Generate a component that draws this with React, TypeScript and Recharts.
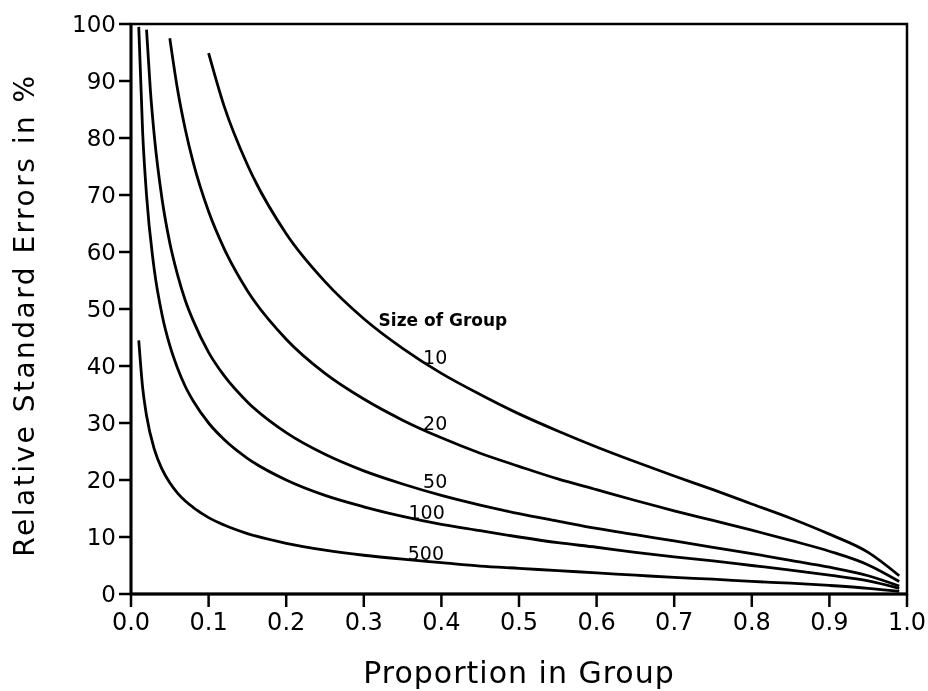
import {
    LineChart,
    Line,
    XAxis,
    YAxis,
    ReferenceArea,
    ReferenceDot,
    Label,
} from 'recharts';

// proportion in group (x) and relative standard error in % (y)
const propN10 = [0.1, 0.12, 0.15, 0.2, 0.25, 0.3, 0.35, 0.4, 0.45, 0.5, 0.55, 0.6, 0.65, 0.7, 0.75, 0.8, 0.85, 0.9, 0.95, 0.99];
const errN10 = [94.9, 85.6, 75.3, 63.2, 54.8, 48.3, 43.1, 38.7, 35.0, 31.6, 28.6, 25.8, 23.2, 20.7, 18.3, 15.8, 13.3, 10.5, 7.3, 3.2];

const propN20 = [0.05, 0.06, 0.07, 0.08, 0.1, 0.12, 0.15, 0.2, 0.25, 0.3, 0.35, 0.4, 0.45, 0.5, 0.55, 0.6, 0.65, 0.7, 0.75, 0.8, 0.85, 0.9, 0.95, 0.99];
const errN20 = [97.5, 88.5, 81.5, 75.8, 67.1, 60.6, 53.2, 44.7, 38.7, 34.2, 30.5, 27.4, 24.7, 22.4, 20.2, 18.3, 16.4, 14.6, 12.9, 11.2, 9.4, 7.5, 5.1, 2.2];

const propN50 = [0.02, 0.025, 0.03, 0.04, 0.05, 0.06, 0.07, 0.08, 0.1, 0.12, 0.15, 0.2, 0.25, 0.3, 0.35, 0.4, 0.45, 0.5, 0.55, 0.6, 0.65, 0.7, 0.75, 0.8, 0.85, 0.9, 0.95, 0.99];
const errN50 = [99.0, 88.3, 80.4, 69.3, 61.6, 56.0, 51.5, 48.0, 42.4, 38.3, 33.7, 28.3, 24.5, 21.6, 19.3, 17.3, 15.6, 14.1, 12.8, 11.5, 10.4, 9.3, 8.2, 7.1, 5.9, 4.7, 3.2, 1.4];

const propN100 = [0.01, 0.015, 0.02, 0.03, 0.04, 0.05, 0.06, 0.07, 0.08, 0.1, 0.12, 0.15, 0.2, 0.25, 0.3, 0.35, 0.4, 0.45, 0.5, 0.55, 0.6, 0.65, 0.7, 0.75, 0.8, 0.85, 0.9, 0.95, 0.99];
const errN100 = [99.5, 81.0, 70.0, 56.9, 49.0, 43.6, 39.6, 36.4, 33.9, 30.0, 27.1, 23.8, 20.0, 17.3, 15.3, 13.6, 12.2, 11.1, 10.0, 9.0, 8.2, 7.3, 6.5, 5.8, 5.0, 4.2, 3.3, 2.3, 1.0];

const propN500 = [0.01, 0.015, 0.02, 0.03, 0.04, 0.05, 0.06, 0.07, 0.08, 0.1, 0.12, 0.15, 0.2, 0.25, 0.3, 0.35, 0.4, 0.45, 0.5, 0.55, 0.6, 0.65, 0.7, 0.75, 0.8, 0.85, 0.9, 0.95, 0.99];
const errN500 = [44.5, 36.2, 31.3, 25.4, 21.9, 19.5, 17.7, 16.3, 15.2, 13.4, 12.1, 10.6, 8.9, 7.7, 6.8, 6.1, 5.5, 4.9, 4.5, 4.1, 3.7, 3.3, 2.9, 2.6, 2.2, 1.9, 1.5, 1.0, 0.45];

// curve labels and where they sit (data coords)
const groupLabels = ['Size of Group', '10', '20', '50', '100', '500'];
const labelProp = [0.402, 0.392, 0.392, 0.392, 0.381, 0.38];
const labelErr = [48.1, 41.6, 30.0, 19.8, 14.4, 7.2];

const xTicks = [0, 0.1, 0.2, 0.3, 0.4, 0.5, 0.6, 0.7, 0.8, 0.9, 1.0];
const yTicks = [0, 10, 20, 30, 40, 50, 60, 70, 80, 90, 100];

const toSeries = (ps: number[], vs: number[]) => ps.map((p, i) => ({p, v: vs[i]}));

const series = [
    {name: '10', data: toSeries(propN10, errN10)},
    {name: '20', data: toSeries(propN20, errN20)},
    {name: '50', data: toSeries(propN50, errN50)},
    {name: '100', data: toSeries(propN100, errN100)},
    {name: '500', data: toSeries(propN500, errN500)},
];

const FONT = '"DejaVu Sans", sans-serif';
const INK = '#000';

const App = () => {
    return (
        // pinned to the window corner so chart coords = page coords
        <div style={{position: 'fixed', left: 0, top: 0, width: 928, height: 691}}>
            <LineChart
                width={928}
                height={691}
                margin={{top: 24, right: 21, left: 0, bottom: 0}}
                style={{overflow: 'visible'}}
            >
                <XAxis
                    type="number"
                    dataKey="p"
                    domain={[0, 1]}
                    ticks={xTicks}
                    allowDuplicatedCategory={false}
                    tickFormatter={(v: number) => v.toFixed(1)}
                    height={97}
                    axisLine={{stroke: INK, strokeWidth: 2.8}}
                    tickLine={{stroke: INK, strokeWidth: 2.5}}
                    tickSize={13}
                    tickMargin={6}
                    tick={{fontSize: 24, fill: INK, fontFamily: FONT}}
                >
                    <Label
                        content={({viewBox}: any) => (
                            <text
                                x={viewBox.x + viewBox.width / 2}
                                y={viewBox.y + 89}
                                textAnchor="middle"
                                fontSize={30}
                                fontFamily={FONT}
                                letterSpacing={1}
                                fill={INK}
                            >
                                Proportion in Group
                            </text>
                        )}
                    />
                </XAxis>
                <YAxis
                    type="number"
                    domain={[0, 100]}
                    ticks={yTicks}
                    width={131}
                    axisLine={{stroke: INK, strokeWidth: 2.8}}
                    tickLine={{stroke: INK, strokeWidth: 2.5}}
                    tickSize={12}
                    tickMargin={3}
                    tick={{fontSize: 23, fill: INK, fontFamily: FONT}}
                >
                    <Label
                        content={({viewBox}: any) => {
                            const cx = 24;
                            const cy = viewBox.y + viewBox.height / 2 + 6;
                            return (
                                <text
                                    x={cx}
                                    y={cy}
                                    transform={`rotate(-90, ${cx}, ${cy})`}
                                    textAnchor="middle"
                                    dominantBaseline="central"
                                    fontSize={28}
                                    fontFamily={FONT}
                                    letterSpacing={2.5}
                                    fill={INK}
                                >
                                    Relative Standard Errors in %
                                </text>
                            );
                        }}
                    />
                </YAxis>

                <ReferenceArea x1={0} x2={1} y1={0} y2={100} fill="none" stroke={INK} strokeWidth={2.5}/>

                {series.map((s) => (
                    <Line
                        key={s.name}
                        data={s.data}
                        dataKey="v"
                        type="monotone"
                        stroke={INK}
                        strokeWidth={2.8}
                        dot={false}
                        activeDot={false}
                        isAnimationActive={false}
                    />
                ))}

                {groupLabels.map((text, i) => (
                    <ReferenceDot
                        key={text}
                        x={labelProp[i]}
                        y={labelErr[i]}
                        r={0}
                        fill="none"
                        stroke="none"
                        label={{
                            value: text,
                            position: 'center',
                            fontSize: i === 0 ? 17 : 19,
                            fontWeight: i === 0 ? 700 : 400,
                            fontFamily: FONT,
                            fill: INK,
                        }}
                    />
                ))}
            </LineChart>
        </div>
    );
};

export default App;
